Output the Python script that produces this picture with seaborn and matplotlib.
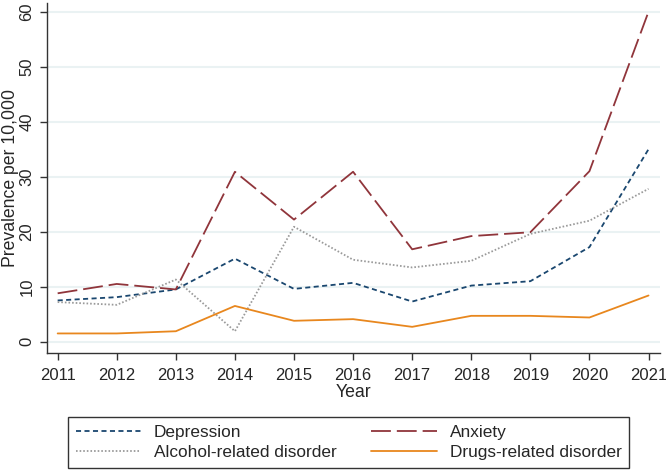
import matplotlib
matplotlib.use("Agg")
import matplotlib.pyplot as plt
import pandas as pd
import seaborn as sns

# values
years = list(range(2011, 2022))
depression = [7.5, 8.1, 9.5, 15.1, 9.6, 10.7, 7.3, 10.2, 11.0, 17.2, 35.0]
anxiety = [8.8, 10.5, 9.5, 30.9, 22.2, 30.9, 16.8, 19.2, 19.9, 31.0, 60.0]
alcohol = [7.2, 6.7, 11.3, 1.9, 20.9, 14.9, 13.5, 14.7, 19.6, 22.0, 27.8]
drugs = [1.5, 1.5, 1.9, 6.5, 3.8, 4.1, 2.7, 4.7, 4.7, 4.4, 8.4]

series = {
    "Depression": depression,
    "Anxiety": anxiety,
    "Alcohol-related disorder": alcohol,
    "Drugs-related disorder": drugs,
}
palette = {
    "Depression": "#1a476f",
    "Anxiety": "#90353b",
    "Alcohol-related disorder": "#9a9a9a",
    "Drugs-related disorder": "#e8871e",
}
dashes = {
    "Depression": (2.8, 1.9),
    "Anxiety": (11, 3.3),
    "Alcohol-related disorder": (0.9, 1.1),
    "Drugs-related disorder": "",
}

df = pd.DataFrame(
    [(y, name, v) for name, vals in series.items() for y, v in zip(years, vals)],
    columns=["Year", "Condition", "Prevalence"],
)

sns.set_theme(style="white")
plt.rcParams["font.family"] = ["Liberation Sans", "DejaVu Sans"]

fig = plt.figure(figsize=(6.66, 4.70), dpi=100)
ax = fig.add_axes([0.0706, 0.2496, 0.9209, 0.743])

sns.lineplot(
    data=df, x="Year", y="Prevalence", hue="Condition", style="Condition",
    palette=palette, dashes=dashes, linewidth=1.3, ax=ax, legend="auto",
)

ax.set_xlim(2010.82, 2021.2)
ax.set_ylim(-2, 61.5)
ax.set_xticks(years)
ax.set_yticks(range(0, 61, 10))
ax.tick_params(axis="both", labelsize=12, length=5, width=1, color="#333333",
               direction="out", bottom=True, left=True)
ax.tick_params(axis="x", pad=6)
ax.tick_params(axis="y", pad=4)
for lab in ax.get_yticklabels():
    lab.set_rotation(90)
    lab.set_va("center")
ax.yaxis.grid(True, color="#eaf2f3", linewidth=1.5)
ax.xaxis.grid(False)
ax.set_axisbelow(True)
for side in ("top", "right"):
    ax.spines[side].set_visible(False)
for side in ("left", "bottom"):
    ax.spines[side].set_color("#333333")
    ax.spines[side].set_linewidth(1)
ax.set_xlabel("Year", fontsize=12.7, labelpad=1)
ax.set_ylabel("Prevalence per 10,000", fontsize=12.7, va="center")
ax.yaxis.set_label_coords(-0.060, 0.5)

handles, labels = ax.get_legend_handles_labels()
ax.get_legend().remove()
lookup = dict(zip(labels, handles))
order = ["Depression", "Alcohol-related disorder", "Anxiety", "Drugs-related disorder"]
leg = fig.legend(
    [lookup[k] for k in order], order, ncol=2, fontsize=12.4,
    loc="lower left", bbox_to_anchor=(0.102, 0.0043), borderaxespad=0,
    fancybox=False, edgecolor="#333333", framealpha=1,
    handlelength=3.8, handletextpad=0.75, labelspacing=0.3, borderpad=0.45,
    columnspacing=2.0,
)
leg.get_frame().set_linewidth(1)

fig.savefig("out.png", dpi=100)
